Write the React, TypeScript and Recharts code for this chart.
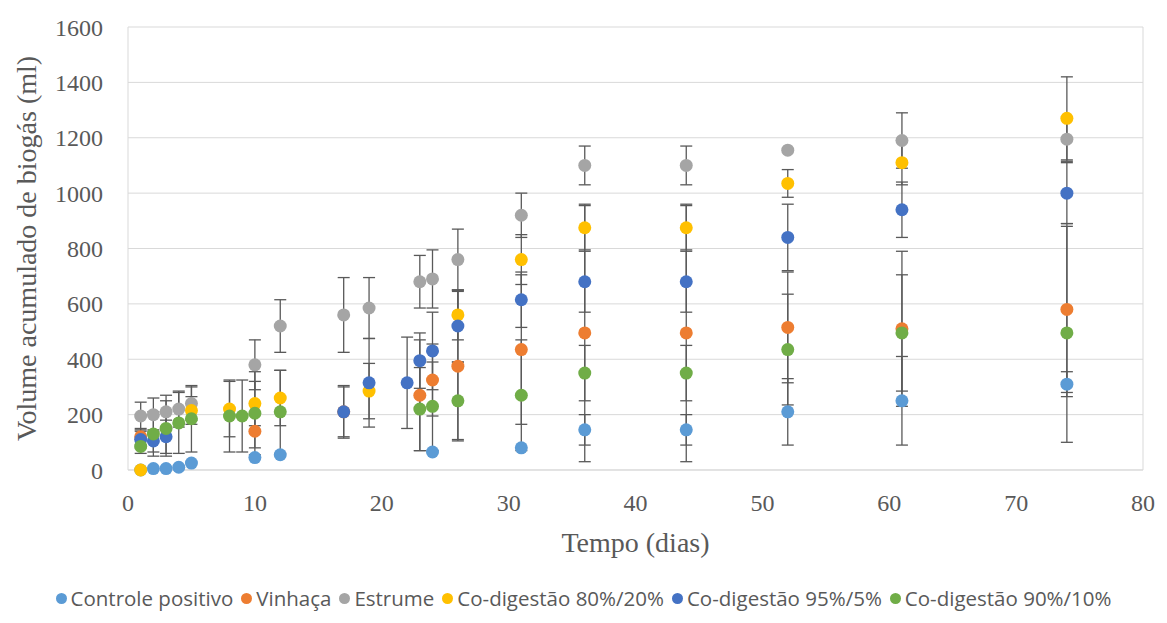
import React from 'react';
import {
  ScatterChart,
  Scatter,
  XAxis,
  YAxis,
  CartesianGrid,
  ErrorBar,
  ReferenceLine,
  Label,
} from 'recharts';

const dias = [1, 2, 3, 4, 5, 8, 9, 10, 12, 17, 19, 22, 23, 24, 26, 31, 36, 44, 52, 61, 74];

const controle = [0, 5, 5, 10, 25, null, null, 45, 55, null, null, null, null, 65, null, 80, 145, 145, 210, 250, 310];
const controleErr = [0, 0, 0, 0, 0, 0, 0, 0, 0, 0, 0, 0, 0, 0, 0, 0, 55, 55, 120, 160, 45];

const vinhaca = [120, null, null, null, null, null, null, 140, null, 210, null, null, 270, 325, 375, 435, 495, 495, 515, 510, 580];
const vinhacaErr = [30, 0, 0, 0, 0, 0, 0, 60, 0, 90, 0, 0, 200, 130, 270, 270, 465, 465, 200, 280, 300];

const estrume = [195, 200, 210, 220, 240, null, null, 380, 520, 560, 585, null, 680, 690, 760, 920, 1100, 1100, 1155, 1190, 1195];
const estrumeErr = [50, 60, 60, 65, 60, 0, 0, 90, 95, 135, 110, 0, 95, 105, 110, 80, 70, 70, 0, 100, 80];

const co8020 = [0, null, null, null, 215, 220, null, 240, 260, null, 285, null, null, null, 560, 760, 875, 875, 1035, 1110, 1270];
const co8020Err = [0, 0, 0, 0, 50, 100, 0, 80, 100, 0, 100, 0, 0, 0, 90, 90, 80, 80, 50, 80, 150];

const co955 = [110, 105, 120, null, null, null, null, null, null, 210, 315, 315, 395, 430, 520, 615, 680, 680, 840, 940, 1000];
const co955Err = [30, 40, 60, 0, 0, 0, 0, 0, 0, 95, 160, 165, 100, 140, 130, 100, 110, 110, 120, 100, 110];

const co9010 = [85, 130, 150, 170, 185, 195, 195, 205, 210, null, null, null, 220, 230, 250, 270, 350, 350, 435, 495, 495];
const co9010Err = [25, 80, 100, 110, 120, 130, 130, 150, 150, 0, 0, 0, 150, 160, 140, 200, 100, 100, 200, 210, 395];

const xTicks = [0, 10, 20, 30, 40, 50, 60, 70, 80];
const yTicks = [0, 200, 400, 600, 800, 1000, 1200, 1400, 1600];

const toPoints = (vals: (number | null)[], errs: number[]) =>
  dias
    .map((d, i) => ({ x: d, y: vals[i], err: errs[i] }))
    .filter((p) => p.y !== null);

const series = [
  { name: 'Controle positivo', color: '#5B9BD5', data: toPoints(controle, controleErr) },
  { name: 'Vinhaça', color: '#ED7D31', data: toPoints(vinhaca, vinhacaErr) },
  { name: 'Estrume', color: '#A5A5A5', data: toPoints(estrume, estrumeErr) },
  { name: 'Co-digestão 80%/20%', color: '#FFC000', data: toPoints(co8020, co8020Err) },
  { name: 'Co-digestão 95%/5%', color: '#4472C4', data: toPoints(co955, co955Err) },
  { name: 'Co-digestão 90%/10%', color: '#70AD47', data: toPoints(co9010, co9010Err) },
];

const serif = '"Liberation Serif", "Times New Roman", serif';
const axisFont = { fontFamily: serif, fontSize: 24, fill: '#595959' };

const Dot = (props: any) => {
  const { cx, cy, fill } = props;
  return <circle cx={cx} cy={cy} r={6.5} fill={fill} />;
};

export default function App() {
  return (
    <div style={{ position: 'absolute', left: 0, top: 0, width: 1167, height: 623, background: '#fff' }}>
      <ScatterChart width={1167} height={623} margin={{ top: 27, right: 24, left: 18, bottom: 63 }}>
        <CartesianGrid vertical={false} stroke="#d9d9d9" />
        <ReferenceLine x={80} stroke="#d9d9d9" />
        <XAxis
          type="number"
          dataKey="x"
          domain={[0, 80]}
          ticks={xTicks}
          tickLine={false}
          axisLine={{ stroke: '#d9d9d9' }}
          tick={axisFont}
          tickMargin={18}
          height={90}
        >
          <Label
            value="Tempo (dias)"
            position="insideBottom"
            offset={8}
            style={{ fontFamily: serif, fontSize: 28, fill: '#595959' }}
          />
        </XAxis>
        <YAxis
          type="number"
          dataKey="y"
          domain={[0, 1600]}
          ticks={yTicks}
          tickLine={false}
          axisLine={{ stroke: '#d9d9d9' }}
          tick={axisFont}
          tickMargin={19}
          width={110}
        >
          <Label
            value="Volume acumulado de biogás (ml)"
            angle={-90}
            position="insideLeft"
            offset={8}
            style={{ textAnchor: 'middle', fontFamily: serif, fontSize: 28, fill: '#595959' }}
          />
        </YAxis>
        {series.map((s) => (
          <Scatter
            key={s.name}
            name={s.name}
            data={s.data}
            fill={s.color}
            shape={<Dot />}
            isAnimationActive={false}
          >
            <ErrorBar dataKey="err" direction="y" width={6} stroke="#595959" strokeWidth={1.3} />
          </Scatter>
        ))}
      </ScatterChart>
      <div
        style={{
          position: 'absolute',
          top: 586,
          left: 0,
          width: 1167,
          display: 'flex',
          justifyContent: 'center',
          gap: 8,
          fontFamily: '"Open Sans", sans-serif',
          fontSize: 20.5,
          color: '#595959',
          lineHeight: '24px',
          whiteSpace: 'nowrap',
        }}
      >
        {series.map((s) => (
          <span key={s.name} style={{ display: 'flex', alignItems: 'center', gap: 4 }}>
            <span style={{ width: 11, height: 11, borderRadius: '50%', background: s.color, display: 'inline-block' }} />
            {s.name}
          </span>
        ))}
      </div>
    </div>
  );
}
